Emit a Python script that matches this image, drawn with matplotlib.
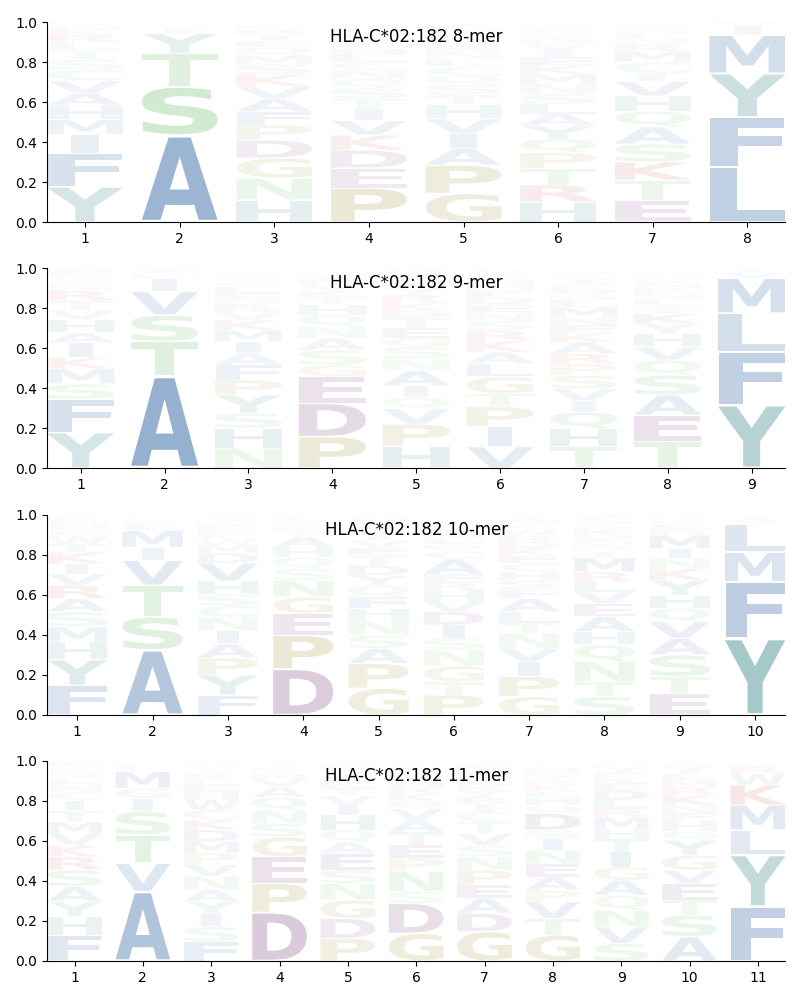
"""
Peptide binding motif logos for HLA-C*02:182, 8- to 11-mers.
Letters are stacked per position (most frequent at the bottom), height = frequency,
opacity scaled with frequency.
"""

import matplotlib
matplotlib.use('Agg')
import matplotlib.pyplot as plt
import matplotlib.transforms as mtransforms
from matplotlib.textpath import TextPath
from matplotlib.patches import PathPatch
from matplotlib.font_manager import FontProperties

allele = 'HLA-C*02:182'

# Letters per position, bottom to top, with their frequencies
letters_8mer = ['YFIMHAVCSTLRKNQ', 'ASTYIVLF', 'HNGDPFAVKSMQEIRLY', 'PEDKVITSQNCLHGARMFYW',
                'GPAIVHTSQCLNEDKRMFY', 'HRTPQYALSNMKEIVDGFCW', 'ETKSAQHVICMRNLGDY', 'LFYMIV']
freqs_8mer = [[.176, .169, .093, .075, .068, .064, .062, .055, .05, .045, .04, .038, .03, .02, .015],
              [.433, .244, .166, .10, .03, .012, .008, .007],
              [.11, .11, .10, .09, .075, .066, .065, .062, .06, .05, .045, .04, .035, .03, .025, .02, .017],
              [.17, .10, .09, .075, .072, .058, .053, .05, .048, .045, .04, .035, .03, .028, .025, .02, .018, .015, .012, .01],
              [.143, .141, .083, .075, .075, .07, .05, .05, .045, .045, .04, .035, .03, .025, .022, .02, .018, .015, .012],
              [.10, .085, .083, .08, .068, .065, .06, .05, .05, .05, .048, .045, .04, .035, .03, .025, .025, .02, .015, .01],
              [.11, .10, .09, .09, .085, .08, .075, .072, .04, .06, .05, .035, .03, .025, .02, .015, .012],
              [.275, .249, .219, .192, .045, .02]]

letters_9mer = ['YFSMKIAHVTRNQCLE', 'ATSVILMFG', 'NHSYPFAIMKVRDELGQCTW', 'PDEGSANQHTKVRILYC',
                'HPVQIANSGETDKRYFLMCW', 'VIPTGLAKRSNEDFMHQYC', 'THQIVSPRAKENMLGDFYCW',
                'TEASQVHYKILNRMFGDP', 'YFLMVI']
freqs_9mer = [[.177, .167, .077, .075, .058, .072, .05, .066, .045, .05, .05, .03, .025, .02, .02, .018],
              [.46, .172, .133, .117, .066, .02, .015, .01, .007],
              [.10, .10, .075, .09, .075, .075, .058, .058, .058, .05, .04, .035, .03, .03, .03, .025, .025, .02, .018, .008],
              [.157, .167, .133, .058, .075, .06, .058, .058, .05, .04, .03, .03, .025, .02, .015, .012, .012],
              [.11, .11, .075, .058, .058, .075, .06, .06, .045, .05, .05, .035, .04, .04, .035, .025, .025, .02, .015, .014],
              [.107, .10, .10, .066, .083, .066, .058, .058, .05, .045, .045, .04, .035, .035, .03, .025, .025, .02, .012],
              [.107, .09, .083, .057, .06, .066, .058, .05, .058, .045, .04, .04, .05, .035, .03, .03, .025, .025, .02, .015],
              [.132, .133, .10, .10, .075, .066, .066, .05, .05, .04, .03, .03, .025, .025, .02, .02, .015, .015],
              [.315, .267, .192, .175, .03, .015]]

letters_10mer = ['FYHMSARVIKTWCNLQ', 'ASTVIMLFGC', 'FYPAINCSHVDMWKRELTGQ', 'DPEGNSQHATKVRILY',
                 'GPASNHFQYDTEVIKLRMC', 'PTGNSIDVHREACQLMKFYW', 'GPIVNTLAFSHCEKDRWQMY',
                 'STNQHAEVLRMIPGDKFYCW', 'ETSAVQHYKNIMRLFGD', 'YFMLVIW']
freqs_10mer = [[.148, .128, .09, .075, .075, .066, .066, .058, .05, .058, .04, .04, .03, .03, .025, .02],
               [.325, .166, .158, .124, .066, .083, .03, .02, .015, .01],
               [.10, .10, .086, .07, .066, .066, .058, .058, .066, .09, .05, .04, .03, .025, .02, .02, .018, .015, .012, .01],
               [.23, .169, .108, .083, .083, .058, .058, .05, .05, .03, .02, .015, .015, .01, .01, .01],
               [.134, .124, .075, .066, .075, .058, .058, .058, .05, .05, .05, .04, .035, .03, .025, .025, .02, .015, .01],
               [.10, .066, .08, .08, .058, .066, .066, .05, .058, .04, .04, .075, .04, .035, .03, .025, .025, .02, .02, .01],
               [.093, .10, .075, .066, .075, .05, .058, .066, .045, .045, .045, .04, .04, .035, .035, .03, .03, .025, .025, .02],
               [.093, .075, .10, .083, .066, .075, .066, .058, .05, .05, .07, .03, .03, .03, .025, .03, .015, .015, .025, .02],
               [.11, .083, .108, .083, .083, .066, .066, .075, .058, .05, .05, .066, .03, .025, .02, .015, .012],
               [.383, .282, .149, .141, .02, .015, .01]]

letters_11mer = ['FHYASRKVMTICNLQGED', 'AVTSIGMLFC', 'FSIYANVPMDKCWHELRTGQ', 'DPEGSNQAVHTKRI',
                 'PDGNSEAQHIVTKRYMLF', 'GDSNPETAVQKRHILYFM', 'GDAEPNSVTCIRYKLQHMF',
                 'GTVPAENISDQHLKRYFMC', 'SVNQAGITHMRLDEKFYPC', 'ASTEVGYQHFNKRMLIDP', 'FYLMKWRVI']
freqs_11mer = [[.13, .092, .075, .075, .083, .066, .058, .058, .058, .058, .05, .04, .04, .03, .03, .025, .02, .012],
               [.347, .142, .142, .117, .066, .05, .083, .025, .015, .01],
               [.097, .075, .066, .06, .06, .066, .058, .058, .058, .058, .05, .05, .05, .04, .035, .03, .025, .025, .02, .015],
               [.243, .145, .133, .10, .066, .066, .066, .05, .04, .025, .02, .015, .012, .01],
               [.113, .10, .092, .083, .066, .083, .058, .06, .075, .05, .045, .04, .03, .025, .025, .02, .02, .015],
               [.138, .15, .06, .10, .066, .066, .066, .06, .055, .04, .035, .03, .03, .025, .02, .02, .015, .012],
               [.147, .092, .075, .066, .075, .066, .058, .058, .058, .05, .04, .035, .03, .03, .025, .025, .02, .02, .015],
               [.13, .083, .083, .058, .066, .066, .066, .058, .045, .083, .04, .04, .03, .03, .025, .025, .02, .02, .015],
               [.088, .083, .083, .075, .075, .066, .075, .066, .05, .058, .04, .045, .05, .035, .03, .025, .025, .02, .01],
               [.122, .108, .075, .083, .066, .075, .075, .045, .05, .04, .04, .05, .04, .035, .03, .025, .02, .015],
               [.272, .258, .125, .125, .10, .058, .035, .015, .01]]

panels = [('8-mer', letters_8mer, freqs_8mer),
          ('9-mer', letters_9mer, freqs_9mer),
          ('10-mer', letters_10mer, freqs_10mer),
          ('11-mer', letters_11mer, freqs_11mer)]

# colour groups
colors = {}
for aa in 'AVILMFW':
    colors[aa] = '#1a5499'
for aa in 'YH':
    colors[aa] = '#177272'
for aa in 'STNQC':
    colors[aa] = '#45b045'
for aa in 'GP':
    colors[aa] = '#8a8010'
for aa in 'DE':
    colors[aa] = '#6a2a70'
for aa in 'KR':
    colors[aa] = '#c01818'

font = FontProperties(family='DejaVu Sans', weight='bold')
ref_path = TextPath((0, 0), 'E', size=1, prop=font)
ref_width = ref_path.get_extents().width


def draw_letter(ax, ch, x, floor, height, width=0.8, vpad=0.05):
    path = TextPath((0, 0), ch, size=1, prop=font)
    ext = path.get_extents()
    # narrow letters (like I) are not stretched beyond the width of E
    hstretch = min(width / ext.width, width / ref_width)
    w = ext.width * hstretch
    h = height * (1 - vpad)
    tr = mtransforms.Affine2D().translate(-ext.x0, -ext.y0) \
        .scale(hstretch, h / ext.height) \
        .translate(x - w / 2, floor + height * vpad / 2)
    alpha = min(1.0, height)
    patch = PathPatch(tr.transform_path(path), facecolor=colors[ch], edgecolor='none',
                      alpha=alpha, lw=0)
    ax.add_patch(patch)


fig = plt.figure(figsize=(8, 10), dpi=100)
bottoms = [0.778, 0.532, 0.285, 0.039]

for (name, letters, freqs), b in zip(panels, bottoms):
    ax = fig.add_axes([0.059, b, 0.9225, 0.2])
    n = len(letters)
    for i in range(n):
        floor = 0.0
        for ch, f in zip(letters[i], freqs[i]):
            draw_letter(ax, ch, i + 1, floor, f)
            floor += f
    ax.set_xlim(0.6, n + 0.4)
    ax.set_ylim(0, 1)
    ax.set_xticks(range(1, n + 1))
    ax.set_yticks([0, 0.2, 0.4, 0.6, 0.8, 1.0])
    ax.spines['top'].set_visible(False)
    ax.spines['right'].set_visible(False)
    ax.text(0.5, 0.925, allele + ' ' + name, transform=ax.transAxes,
            ha='center', va='center', fontsize=12, zorder=5)

fig.savefig('out.png', dpi=100)
